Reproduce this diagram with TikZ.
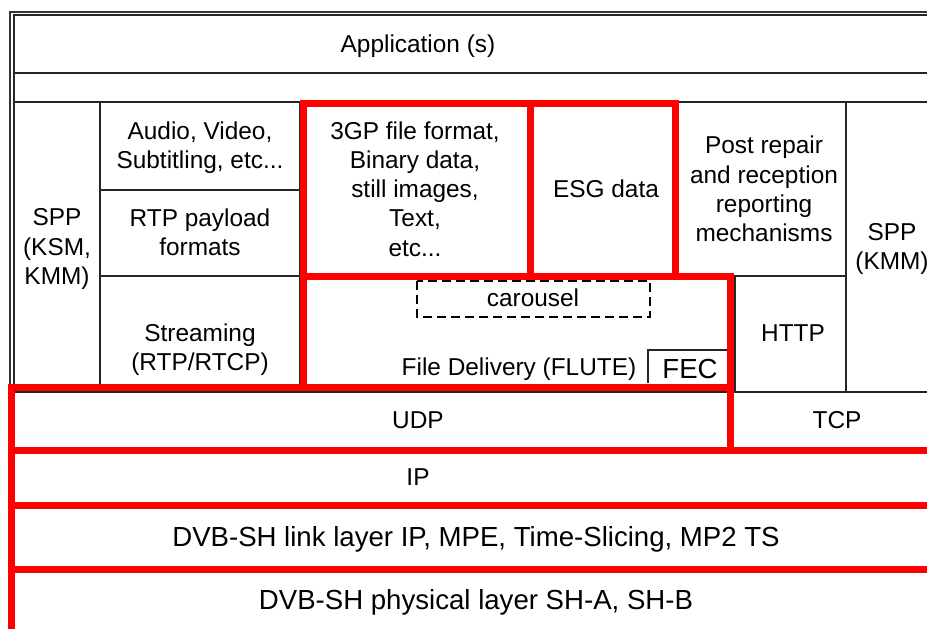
\documentclass[tikz,border=0pt]{standalone}
\usepackage{fontspec}
\setmainfont{Liberation Sans}
\newcommand\layerfont{\fontsize{12.2}{14.6}\selectfont}
\newcommand\bigfont{\fontsize{13.8}{16.5}\selectfont}

\begin{document}
\begin{tikzpicture}
[x=0.5pt,y=-0.5pt,%
  every node/.style={font=\layerfont,align=center,inner sep=0pt},%
  bigtext/.style={font=\bigfont},%
  grid/.style={draw=black!85,line width=0.75pt},%
  redbox/.style={draw=red,line width=3.5pt},%
  carouselbox/.style={draw=black,line width=0.8pt,dash pattern=on 4.5pt off 2.5pt}]
\clip (0,0) rectangle (927,628);
\fill[white] (0,0) rectangle (927,628);
% outer frame
\draw[black!80,line width=1.1pt] (10,12) rectangle (990,700);
\draw[grid] (14,15) rectangle (990,700);
% grid of the stack
\draw[grid] (14,73) -- (990,73);
\draw[grid] (14,102) -- (990,102);
\draw[grid] (100,102) -- (100,392);
\draw[grid] (300,102) -- (300,387);
\draw[grid] (100,190) -- (300,190);
\draw[grid] (100,276) -- (300,276);
\draw[grid] (679,276) -- (846,276);
\draw[grid] (846,102) -- (846,392);
\draw[grid] (735,276) -- (735,392);
\draw[grid] (14,392) -- (990,392);
\draw[grid] (648,383) |- (727,350);
\draw[carouselbox] (417,281) rectangle (650,317);
% red layers
\draw[redbox] (303,103.5) rectangle (530.5,276);
\draw[redbox] (530.5,103.5) rectangle (675.5,276);
\draw[redbox] (303,276) rectangle (730.5,387);
\draw[redbox] (11,387) rectangle (730.5,450.5);
\draw[redbox] (11,450.5) rectangle (990,505.5);
\draw[redbox] (11,505.5) rectangle (990,569.5);
\draw[redbox] (11,569.5) rectangle (990,700);
% labels
\node (app) at (418,46) {Application (s)};
\node (sppl) at (57,249) {SPP\\(KSM,\\KMM)};
\node (av) at (200,148) {Audio, Video,\\Subtitling, etc...};
\node (rtppl) at (200,232) {RTP payload\\formats};
\node (gp) at (415,189) {3GP file format,\\Binary data,\\still images,\\Text,\\etc...};
\node (esg) at (606,189) {ESG data};
\node (post) at (764,189) {Post repair\\and reception\\reporting\\mechanisms};
\node (sppr) at (892,249) {SPP\\(KMM)};
\node (carousel) at (533,298) {carousel};
\node (stream) at (200,350) {Streaming\\(RTP/RTCP)};
\node (flute) at (519,369) {File Delivery (FLUTE)};
\node[bigtext] (fec) at (690,369) {FEC};
\node (http) at (793,333) {HTTP};
\node (udp) at (418,420) {UDP};
\node (tcp) at (837,420) {TCP};
\node (ip) at (418,477) {IP};
\node[bigtext] (link) at (476,539) {DVB-SH link layer IP, MPE, Time-Slicing, MP2 TS};
\node[bigtext] (phy) at (476,602) {DVB-SH physical layer SH-A, SH-B};
\end{tikzpicture}
\end{document}
